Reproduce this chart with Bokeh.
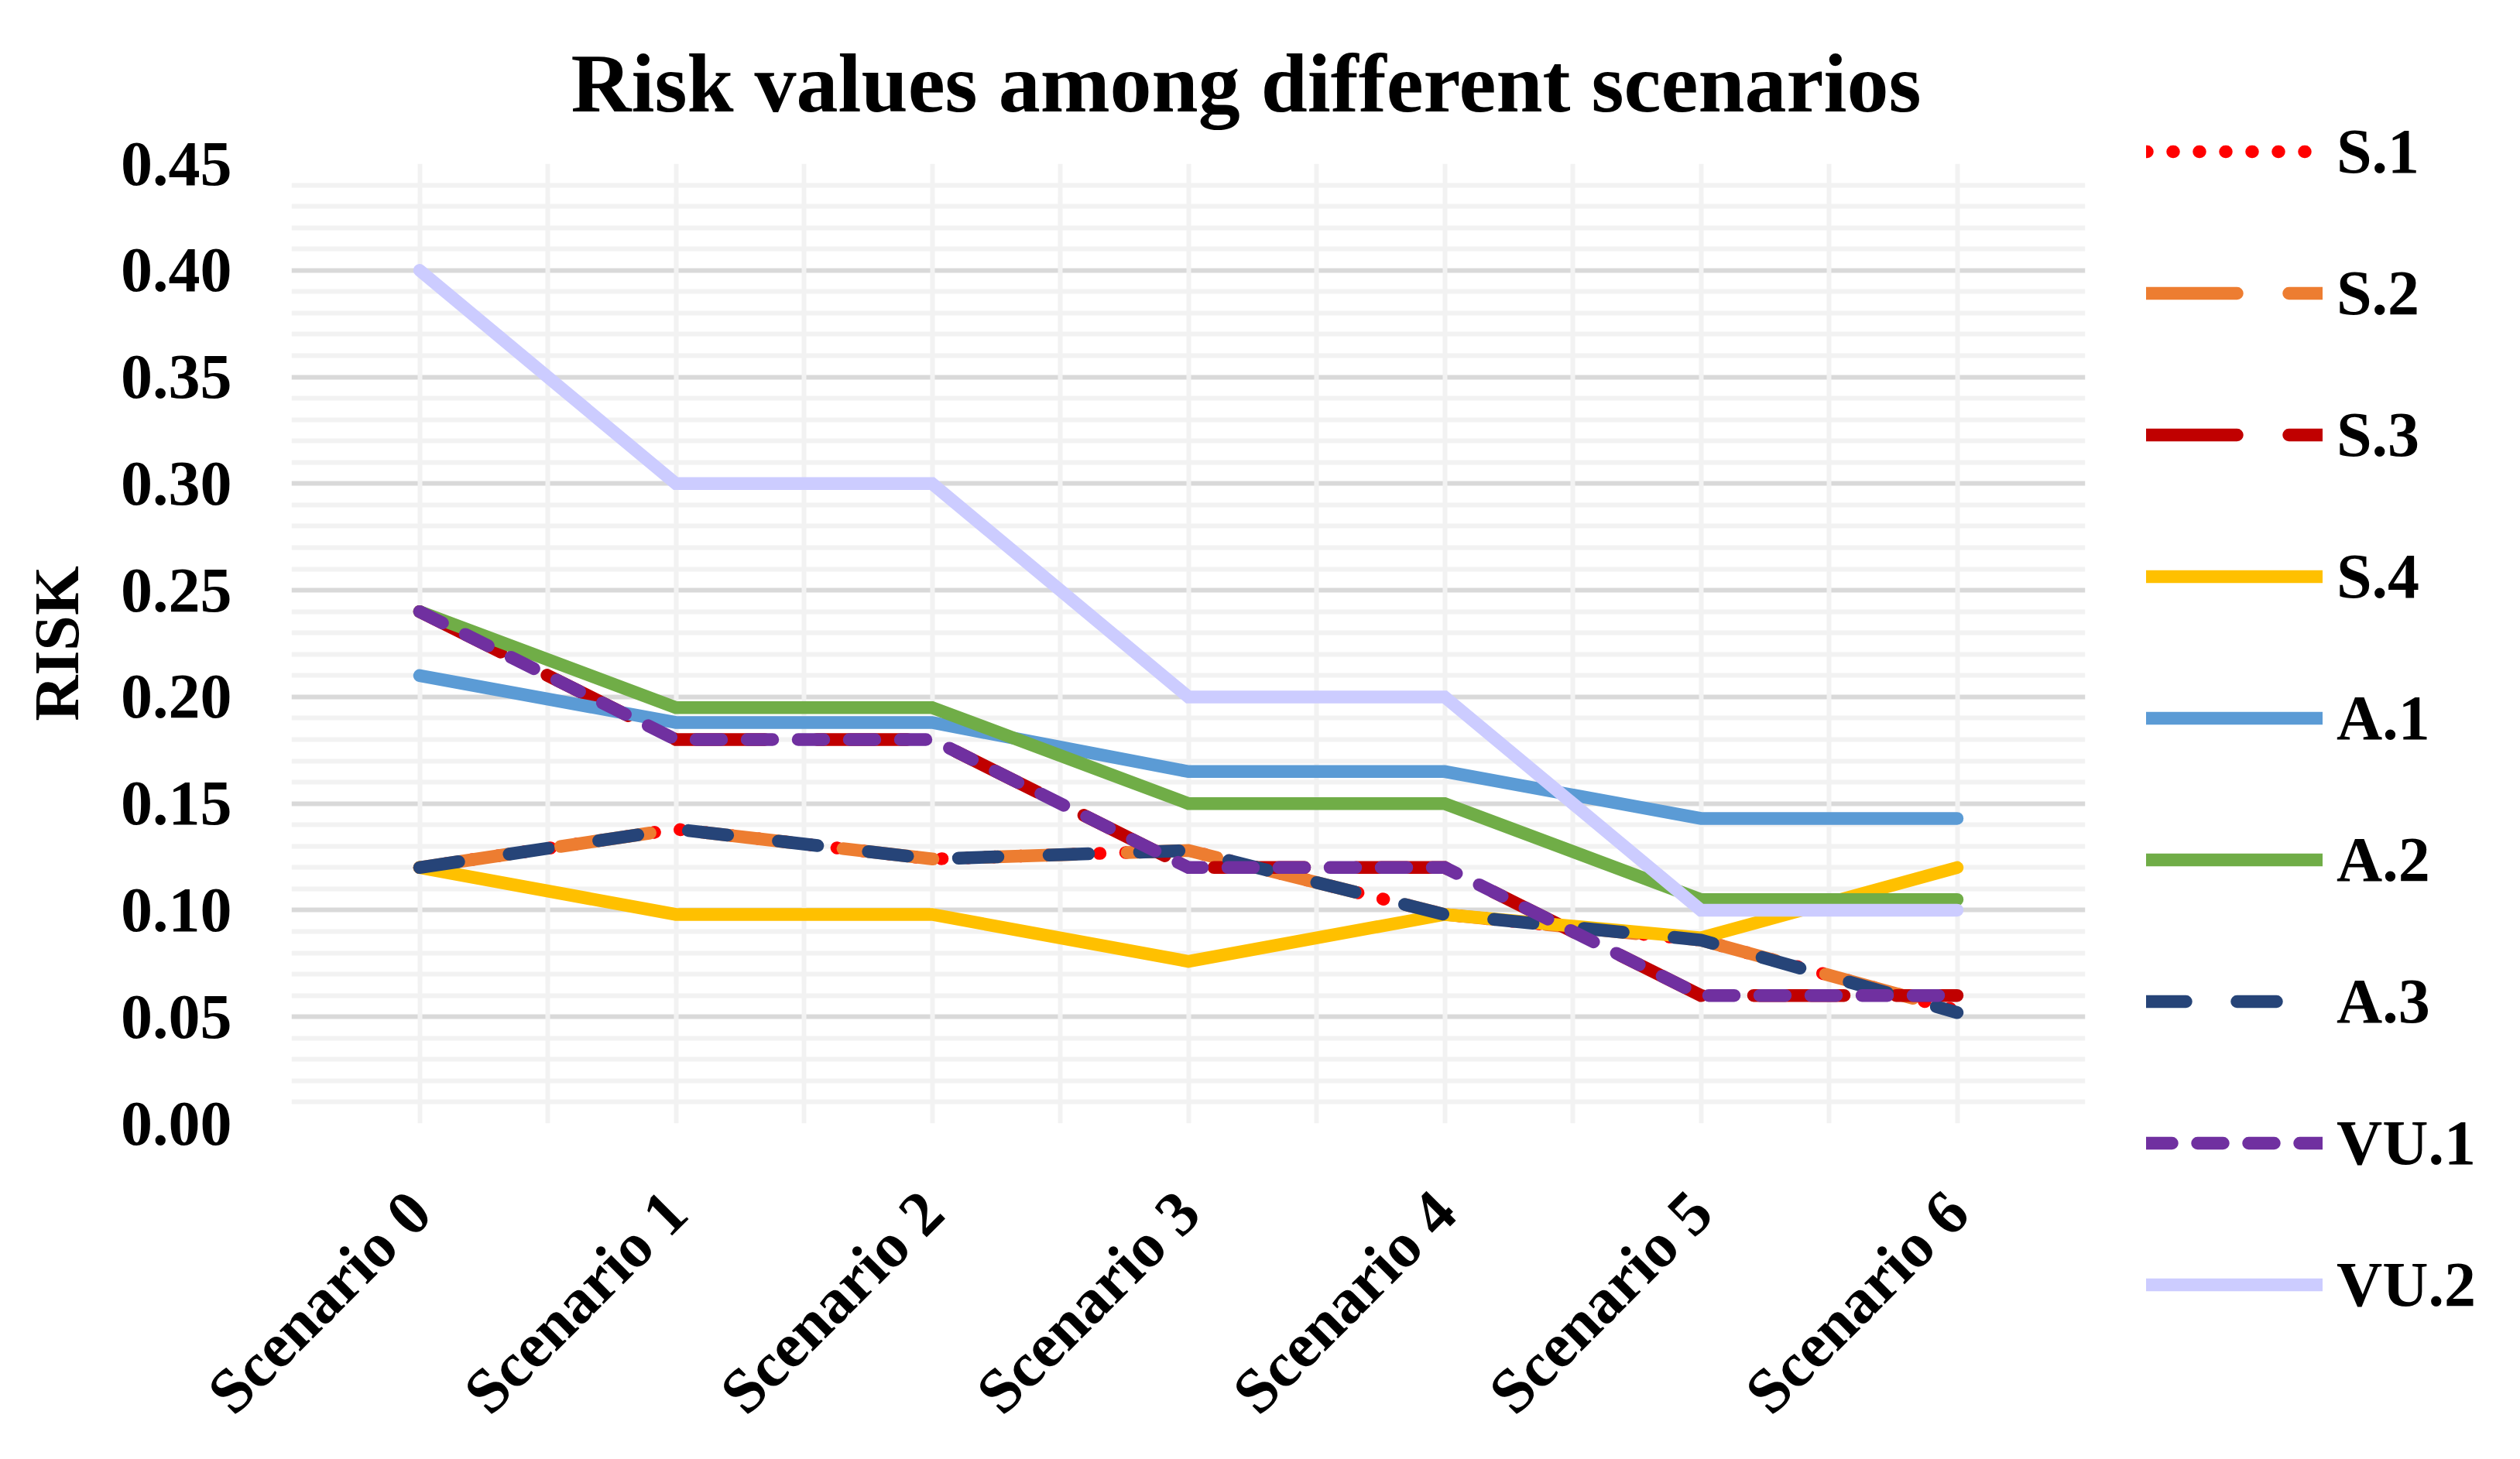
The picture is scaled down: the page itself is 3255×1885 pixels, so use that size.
import math
from bokeh.plotting import figure
from bokeh.models import FixedTicker, NumeralTickFormatter, Legend, LegendItem, ColumnDataSource
from bokeh.embed import file_html
from bokeh.resources import INLINE

# ---------------- data ----------------
categories = ["Scenario 0", "Scenario 1", "Scenario 2", "Scenario 3",
              "Scenario 4", "Scenario 5", "Scenario 6"]
series_names = ["S.1", "S.2", "S.3", "S.4", "A.1", "A.2", "A.3", "VU.1", "VU.2"]
s1 = [0.120, 0.138, 0.124, 0.128, 0.098, 0.086, 0.053]
s2 = [0.120, 0.138, 0.124, 0.128, 0.098, 0.086, 0.053]
s3 = [0.240, 0.180, 0.180, 0.120, 0.120, 0.060, 0.060]
s4 = [0.120, 0.098, 0.098, 0.076, 0.098, 0.087, 0.120]
a1 = [0.210, 0.188, 0.188, 0.165, 0.165, 0.143, 0.143]
a2 = [0.240, 0.195, 0.195, 0.150, 0.150, 0.105, 0.105]
a3 = [0.120, 0.138, 0.124, 0.128, 0.098, 0.086, 0.052]
vu1 = [0.240, 0.180, 0.180, 0.120, 0.120, 0.060, 0.060]
vu2 = [0.400, 0.300, 0.300, 0.200, 0.200, 0.100, 0.100]
y_tick_values = [0.00, 0.05, 0.10, 0.15, 0.20, 0.25, 0.30, 0.35, 0.40, 0.45]

# ---------------- styles ----------------
FONT = "Liberation Serif"
styles = {
    "S.1": dict(color="#FF0000", dash="1 33"),
    "S.2": dict(color="#ED7D31", dash="117 67"),
    "S.3": dict(color="#C00000", dash="117 67"),
    "S.4": dict(color="#FFC000", dash="solid"),
    "A.1": dict(color="#5B9BD5", dash="solid"),
    "A.2": dict(color="#70AD47", dash="solid"),
    "A.3": dict(color="#264478", dash="51 66"),
    "VU.1": dict(color="#7030A0", dash="33 33"),
    "VU.2": dict(color="#CCCCFF", dash="solid"),
}
values = {"S.1": s1, "S.2": s2, "S.3": s3, "S.4": s4, "A.1": a1,
          "A.2": a2, "A.3": a3, "VU.1": vu1, "VU.2": vu2}

x = list(range(len(categories)))

p = figure(width=3239, height=1869, output_backend="svg", toolbar_location=None,
           x_range=(-0.5, len(categories) - 0.5), y_range=(0, 0.45),
           frame_width=2317, frame_height=1240,
           min_border_left=376, min_border_right=546,
           min_border_top=210, min_border_bottom=419)
p.outline_line_color = None
p.background_fill_color = "white"

# title
p.title.text = "Risk values among different scenarios"
p.title.align = "left"
p.title.offset = 361
p.title.text_font = FONT
p.title.text_font_style = "bold"
p.title.text_font_size = "108px"
p.title.text_color = "black"
p.title.standoff = 90

# axes
p.xaxis.ticker = FixedTicker(ticks=x)
p.xaxis.major_label_overrides = {i: c for i, c in zip(x, categories)}
p.xaxis.major_label_orientation = math.pi / 4
p.xaxis.major_label_standoff = 95
p.yaxis.ticker = FixedTicker(ticks=y_tick_values)
p.yaxis.formatter = NumeralTickFormatter(format="0.00")
p.yaxis.major_label_standoff = 71
p.yaxis.axis_label = "RISK"
p.yaxis.axis_label_standoff = 34
for ax in (p.xaxis, p.yaxis):
    ax.axis_line_color = None
    ax.major_tick_line_color = None
    ax.minor_tick_line_color = None
    ax.major_label_text_font = FONT
    ax.major_label_text_font_style = "bold"
    ax.major_label_text_font_size = "82px"
    ax.major_label_text_color = "black"
    ax.axis_label_text_font = FONT
    ax.axis_label_text_font_style = "bold"
    ax.axis_label_text_font_size = "82px"
    ax.axis_label_text_color = "black"

# grids
minor_y = [round(i * 0.01, 2) for i in range(46) if i % 5 != 0]
p.ygrid.ticker = FixedTicker(ticks=y_tick_values, minor_ticks=minor_y)
p.ygrid.grid_line_color = "#D9D9D9"
p.ygrid.grid_line_width = 6
p.ygrid.minor_grid_line_color = "#F2F2F2"
p.ygrid.minor_grid_line_width = 6
xgrid_pos = [i * 0.5 - 0.5 for i in range(2 * len(categories) + 1)]
p.xgrid.ticker = FixedTicker(ticks=xgrid_pos)
p.xgrid.grid_line_color = "#F2F2F2"
p.xgrid.grid_line_width = 6
# draw vertical grid lines over the horizontal ones
p.center = [p.ygrid[0], p.xgrid[0]] + [r for r in p.center if r not in (p.ygrid[0], p.xgrid[0])]

# lines
items = []
for name in series_names:
    st = styles[name]
    src = ColumnDataSource(dict(x=x, y=values[name]))
    r = p.line("x", "y", source=src, line_color=st["color"], line_width=16.5,
               line_dash=st["dash"], line_cap="round", line_join="miter")
    items.append(LegendItem(label=name, renderers=[r]))

legend = Legend(items=items, location=(79, -300), orientation="vertical",
                glyph_width=228, glyph_height=183, label_height=183,
                label_width=10, spacing=0, padding=0, margin=0,
                label_standoff=18, border_line_color=None,
                background_fill_alpha=0,
                label_text_font=FONT, label_text_font_style="bold",
                label_text_font_size="82px", label_text_color="black",
                label_text_baseline="middle")
p.add_layout(legend, "right")

open("out.html", "w").write(file_html(p, INLINE))
